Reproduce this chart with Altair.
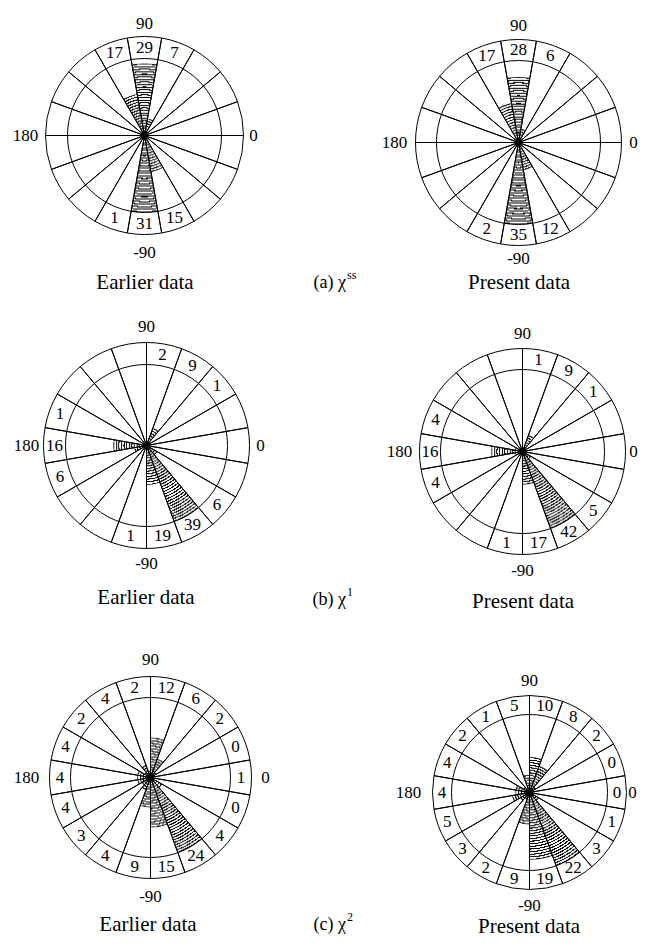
import math
import altair as alt

# ---------------- data ----------------
# sector centres (degrees, counter-clockwise from the 0 direction)
ANGLES_A = [90, 70, 50, 30, 10, -10, -30, -50, -70, -90, -110, -130, -150, -170, 170, 150, 130, 110]
ANGLES_BC = [80, 60, 40, 20, 0, -20, -40, -60, -80, -100, -120, -140, -160, 180, 160, 140, 120, 100]
SECTOR_WIDTH = 20

# percentages per sector (None = empty, no label)
A_EARLIER = [29, 7, None, None, None, None, None, None, 15, 31, 1, None, None, None, None, None, None, 17]
A_PRESENT = [28, 6, None, None, None, None, None, None, 12, 35, 2, None, None, None, None, None, None, 17]
B_EARLIER = [2, 9, 1, None, None, None, 6, 39, 19, 1, None, None, 6, 16, 1, None, None, None]
B_PRESENT = [1, 9, 1, None, None, None, 5, 42, 17, 1, None, None, 4, 16, 4, None, None, None]
C_EARLIER = [12, 6, 2, 0, 1, 0, 4, 24, 15, 9, 4, 3, 4, 4, 4, 2, 4, 2]
C_PRESENT = [10, 8, 2, 0, 0, 1, 3, 22, 19, 9, 2, 3, 5, 4, 4, 2, 1, 5]

AXIS_ANGLES = [90, -90, 180, 0]
AXIS_LABELS = ["90", "-90", "180", "0"]

CAPTION_LEFT = "Earlier data"
CAPTION_RIGHT = "Present data"
PANEL_NAMES = ["(a) χ", "(b) χ", "(c) χ"]
PANEL_SUPS = ["ss", "1", "2"]

# ---------------- layout / style ----------------
W, H = 630, 932
FONT = "Liberation Serif"
NUM_SIZE = 17
CAP_SIZE = 21
NAME_SIZE = 18
SUP_SIZE = 12
HATCH_PERIOD = 2.6
HATCH_LINE = 1.1

# (counts, angles, centre x, centre y, outer radius, inner radius, axis-label gaps 90/-90/180/0)
ROSES = [
    (A_EARLIER, ANGLES_A, 136.5, 127.5, 99, 77, (13, 18, 20, 10)),
    (A_PRESENT, ANGLES_A, 510.5, 134.5, 103, 82, (14, 13, 21, 12)),
    (B_EARLIER, ANGLES_BC, 138.5, 437.5, 103, 81, (16, 15, 17, 11)),
    (B_PRESENT, ANGLES_BC, 514.5, 443.5, 103, 82, (15, 16, 20, 8)),
    (C_EARLIER, ANGLES_BC, 142.5, 769.5, 101, 80, (17, 18, 23, 14)),
    (C_PRESENT, ANGLES_BC, 521.5, 784.5, 97, 78, (15, 16, 24, 6)),
]
# captions: (left x, y), (name right x, y), (right x, y)
CAPTION_POS = [
    ((137, 275), (338, 275), (511, 275)),
    ((138, 590), (338, 592), (515, 594)),
    ((140, 917), (338, 917), (521, 919)),
]

THETA_SCALE = alt.Scale(domain=[90, -270], range=[0, 2 * math.pi])


def ring_fill(c, r):
    """Concentric-arc hatching as a radial gradient centred on the apex."""
    half = SECTOR_WIDTH / 2
    pts = [(0.0, 0.0)]
    for a in (c - half, c + half):
        pts.append((r * math.cos(math.radians(a)), -r * math.sin(math.radians(a))))
    for k in range(-4, 5):
        ang = 90 * k
        if c - half < ang < c + half:
            pts.append((r * math.cos(math.radians(ang)), -r * math.sin(math.radians(ang))))
    xs = [p[0] for p in pts]
    ys = [p[1] for p in pts]
    w = max(xs) - min(xs)
    h = max(ys) - min(ys)
    s = max(w, h, 1e-6)
    bx = (max(xs) + min(xs)) / 2
    by = (max(ys) + min(ys)) / 2
    ux = (0 - bx) / s + 0.5
    uy = (0 - by) / s + 0.5
    n = max(1, int(round(r / HATCH_PERIOD)))
    d = min(HATCH_LINE / r, 0.5 / n)
    stops = []
    for k in range(n):
        o0 = k / n
        o1 = (k + 1) / n
        stops += [
            {"offset": round(o0, 5), "color": "white"},
            {"offset": round(o1 - d, 5), "color": "white"},
            {"offset": round(o1 - d, 5), "color": "black"},
            {"offset": round(o1, 5), "color": "black"},
        ]
    return {"gradient": "radial", "x1": ux, "y1": uy, "r1": 0, "x2": ux, "y2": uy,
            "r2": r / s, "stops": stops}


def rose_layers(counts, angles, cx, cy, ro, ri, gaps):
    half = SECTOR_WIDTH / 2
    vmax = max(v for v in counts if v is not None)
    sectors = [{"c": c, "a1": c - half, "a2": c + half} for c in angles]
    wedges = []
    labels = []
    for c, v in zip(angles, counts):
        if v is None:
            continue
        labels.append({"c": c, "lab": str(v)})
        if v > 0:
            wedges.append({"c": c, "a1": c - half, "a2": c + half, "v": v,
                           "g": ring_fill(c, v / vmax * ri)})
    pos = dict(x=alt.value(cx), y=alt.value(cy))
    th = alt.Theta("a1:Q", scale=THETA_SCALE, stack=False)
    th2 = alt.Theta2("a2:Q")

    wedge = alt.Chart(alt.Data(values=wedges)).mark_arc(strokeWidth=0).encode(
        theta=th, theta2=th2,
        radius=alt.Radius("v:Q", scale=alt.Scale(type="linear", domain=[0, vmax], range=[0, ri])),
        fill=alt.Fill("g:N", scale=None),
        **pos,
    )
    outer = alt.Chart(alt.Data(values=sectors)).mark_arc(
        radius=ro, fillOpacity=0, stroke="black", strokeWidth=1
    ).encode(theta=th, theta2=th2, **pos)
    inner = alt.Chart(alt.Data(values=[{"a1": 90, "a2": -270}])).mark_arc(
        radius=ri, fillOpacity=0, stroke="black", strokeWidth=1
    ).encode(theta=th, theta2=th2, **pos)
    dot = alt.Chart(alt.Data(values=[{"k": 0}])).mark_point(
        shape="circle", filled=True, size=50, color="black", opacity=1
    ).encode(**pos)
    nums = alt.Chart(alt.Data(values=labels)).mark_text(
        radius=(ri + ro) / 2, font=FONT, fontSize=NUM_SIZE, color="black",
        align="center", baseline="middle"
    ).encode(theta=alt.Theta("c:Q", scale=THETA_SCALE), text="lab:N", **pos)
    axis_rows = [{"c": a, "t": t, "rr": ro + g} for a, t, g in zip(AXIS_ANGLES, AXIS_LABELS, gaps)]
    axis = alt.Chart(alt.Data(values=axis_rows)).mark_text(
        font=FONT, fontSize=NUM_SIZE, color="black", align="center", baseline="middle"
    ).encode(theta=alt.Theta("c:Q", scale=THETA_SCALE),
             radius=alt.Radius("rr:Q", scale=None), text="t:N", **pos)
    return [wedge, outer, inner, dot, nums, axis]


def text_layer(txt, x, y, size, align="center"):
    return alt.Chart(alt.Data(values=[{"t": txt}])).mark_text(
        font=FONT, fontSize=size, color="black", align=align, baseline="middle"
    ).encode(text="t:N", x=alt.value(x), y=alt.value(y))


layers = []
for spec in ROSES:
    layers += rose_layers(*spec)

for (lp, np_, rp), name, sup in zip(CAPTION_POS, PANEL_NAMES, PANEL_SUPS):
    layers.append(text_layer(CAPTION_LEFT, lp[0], lp[1], CAP_SIZE))
    layers.append(text_layer(CAPTION_RIGHT, rp[0], rp[1], CAP_SIZE))
    layers.append(text_layer(name, np_[0], np_[1], NAME_SIZE, align="right"))
    layers.append(text_layer(sup, np_[0] + 1, np_[1] - 8, SUP_SIZE, align="left"))

chart = alt.layer(*layers).resolve_scale(radius="independent").properties(
    width=W, height=H, padding=0, autosize=alt.AutoSizeParams(type="none"),
    background="white"
).configure_view(stroke=None)

chart.save("out.html", embed_options={"renderer": "svg", "actions": False})
